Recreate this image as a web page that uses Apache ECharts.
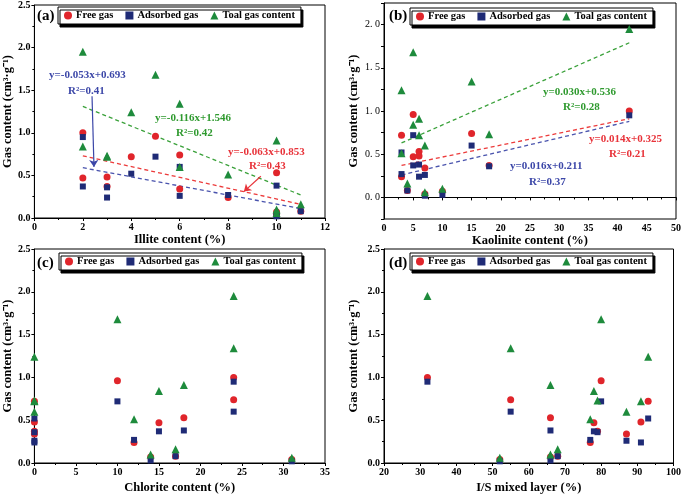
<!DOCTYPE html>
<html><head><meta charset="utf-8">
<script src="https://cdn.jsdelivr.net/npm/echarts@6/dist/echarts.min.js"></script>
<style>html,body{margin:0;padding:0;background:#fff}#c{width:684px;height:495px}</style>
</head><body><div id="c"></div>
<script>
// Samples (13): mineral content (%) and gas contents (cm3/g)
const illite     = [2, 10, 6, 10, 10, 11, 8, 2, 3, 5, 6, 3, 4];
const kaolinite  = [42, 7, 15, 6, 10, 4, 3, 5, 18, 5, 7, 6, 3];
const chlorite   = [24, 31, 24, 18, 14, 17, 12, 15, 0, 10, 0, 0, 0];
const isMixed    = [32, 52, 55, 66, 66, 68, 77, 78, 79, 80, 87, 91, 93];
const freeGas     = [1.00, 0.04, 0.74, 0.53, 0.07, 0.08, 0.24, 0.47, 0.37, 0.96, 0.34, 0.48, 0.72];
const adsorbedGas = [0.95, 0.02, 0.60, 0.38, 0.03, 0.08, 0.27, 0.37, 0.36, 0.72, 0.26, 0.24, 0.52];
const totalGas    = [1.95, 0.06, 1.34, 0.91, 0.10, 0.16, 0.51, 0.84, 0.73, 1.68, 0.60, 0.72, 1.24];

// Fitted trend line endpoints
const fitIlliteX     = [2, 11];
const fitIlliteTotal = [1.31, 0.27];
const fitIlliteFree  = [0.73, 0.16];
const fitIlliteAds   = [0.59, 0.11];
const fitKaolX       = [3, 42];
const fitKaolTotal   = [0.63, 1.79];
const fitKaolFree    = [0.37, 0.91];
const fitKaolAds     = [0.26, 0.88];

const seriesNames = ['Free gas', 'Adsorbed gas', 'Toal gas content'];
const xTitles = ['Illite content (%)', 'Kaolinite content (%)', 'Chlorite content (%)', 'I/S mixed layer (%)'];
const panelLabels = ['(a)', '(b)', '(c)', '(d)'];

const SERIF = '"Liberation Serif","Times New Roman",serif';
const RED = '#e0252b', NAVY = '#1f2b76', GREEN = '#1e8b3c';
const colors = [RED, NAVY, GREEN];
const symbols = ['circle', 'rect', 'triangle'];
const sizes = [7, 6, 8];

const grids = [
  {left: 32, top: 3, width: 293, height: 215},
  {left: 384, top: 3, width: 293, height: 216},
  {left: 32, top: 249, width: 293, height: 216},
  {left: 384, top: 249, width: 293, height: 216}
].map(g => Object.assign({show: true, borderColor: '#000', borderWidth: 1, backgroundColor: 'transparent'}, g));

const xRanges = [[0, 12, 2], [0, 50, 5], [0, 35, 5], [20, 100, 10]];
const xAxis = xRanges.map((r, i) => ({
  gridIndex: i, type: 'value', min: r[0], max: r[1], interval: r[2],
  name: xTitles[i], nameLocation: 'middle', nameGap: i < 2 ? 15 : 18,
  nameTextStyle: {fontFamily: SERIF, fontWeight: 'bold', fontSize: 12.5, color: '#000'},
  axisLine: {show: true, lineStyle: {color: '#000', width: 1}},
  axisTick: {show: true, length: 3, lineStyle: {color: '#000'}},
  minorTick: {show: true, splitNumber: 2, length: 2, lineStyle: {color: '#000'}},
  splitLine: {show: false},
  axisLabel: {fontFamily: SERIF, fontWeight: 'bold', fontSize: 10, color: '#000', margin: 4}
}));

const gasName = 'Gas content (cm³·g⁻¹)';
const yAxis = [0, 1, 2, 3].map(i => {
  const base = {
    gridIndex: i, type: 'value',
    name: gasName, nameLocation: 'middle', nameGap: i % 2 === 0 ? 20 : 24,
    nameTextStyle: {fontFamily: SERIF, fontWeight: 'bold', fontSize: 12.5, color: '#000'},
    axisLine: {show: true, lineStyle: {color: '#000', width: 1}},
    axisTick: {show: true, length: 3, lineStyle: {color: '#000'}},
    splitLine: {show: false},
    axisLabel: {fontFamily: SERIF, fontWeight: 'bold', fontSize: 10, color: '#000', margin: 4}
  };
  if (i === 1) {
    base.min = -0.25; base.max = 2.25; base.interval = 0.25;
    base.axisTick.length = 3;
    base.axisLabel = {fontFamily: SERIF, fontWeight: 'normal', fontSize: 10, color: '#000', margin: 4,
      formatter: v => {
        const d = v * 2;
        if (v < -1e-9 || Math.abs(d - Math.round(d)) > 1e-6) return '';
        return v.toFixed(1).replace('.', '. ');
      }};
  } else {
    base.min = 0; base.max = 2.5; base.interval = 0.5;
    base.minorTick = {show: true, splitNumber: 2, length: 2, lineStyle: {color: '#000'}};
    base.axisLabel.formatter = v => v.toFixed(1);
  }
  return base;
});

const xData = [illite, kaolinite, chlorite, isMixed];
const yData = [freeGas, adsorbedGas, totalGas];
const series = [];
for (let g = 0; g < 4; g++) {
  for (let s = 0; s < 3; s++) {
    series.push({
      name: seriesNames[s], type: 'scatter', xAxisIndex: g, yAxisIndex: g,
      symbol: symbols[s], symbolSize: sizes[s],
      itemStyle: {color: colors[s], opacity: 1},
      data: xData[g].map((x, k) => [x, yData[s][k]]),
      z: 3 + s
    });
  }
}
function fitLine(g, xs, ys, color) {
  return {type: 'line', xAxisIndex: g, yAxisIndex: g, symbol: 'none', silent: true,
    lineStyle: {color: color, width: 1.3, type: [4, 3]},
    data: xs.map((x, k) => [x, ys[k]]), z: 2};
}
series.push(fitLine(0, fitIlliteX, fitIlliteTotal, '#3aa13a'));
series.push(fitLine(0, fitIlliteX, fitIlliteFree, '#ec3b3b'));
series.push(fitLine(0, fitIlliteX, fitIlliteAds, '#4953ad'));
series.push(fitLine(1, fitKaolX, fitKaolTotal, '#3aa13a'));
series.push(fitLine(1, fitKaolX, fitKaolFree, '#ec3b3b'));
series.push(fitLine(1, fitKaolX, fitKaolAds, '#4953ad'));

// arrows in panel (a)
function arrow(from, to, color) {
  return {type: 'line', xAxisIndex: 0, yAxisIndex: 0, symbol: 'none', data: [], silent: true,
    markLine: {silent: true, symbol: ['none', 'arrow'], symbolSize: 7, label: {show: false},
      lineStyle: {color: color, width: 1.2, type: 'solid'},
      data: [[{coord: from}, {coord: to}]]}};
}
series.push(arrow([2.38, 1.43], [2.46, 0.60], '#3c47a8'));
series.push(arrow([9.35, 0.49], [8.65, 0.31], '#e8333a'));

const legends = [
  {left: 58, top: 7}, {left: 410, top: 8}, {left: 59, top: 253}, {left: 410, top: 253}
].map(p => Object.assign({
  data: seriesNames.map((n, s) => ({name: n, icon: symbols[s] === 'rect' ? 'rect' : symbols[s]})),
  orient: 'horizontal', itemWidth: 8, itemHeight: 8, itemGap: 12,
  padding: [3, 6, 3, 6],
  backgroundColor: '#fff', borderColor: '#000', borderWidth: 1,
  shadowColor: '#000', shadowBlur: 0, shadowOffsetX: 2, shadowOffsetY: 3,
  textStyle: {fontFamily: SERIF, fontWeight: 'bold', fontSize: 10.5, color: '#000', padding: [0, 0, 0, -1]},
  selectedMode: false
}, p));

function txt(x, y, text, color, size) {
  return {type: 'text', left: x, top: y, z: 50,
    style: {text: text, fill: color, font: 'bold ' + (size || 11) + 'px ' + SERIF}};
}
const graphic = [
  txt(37, 9, panelLabels[0], '#000', 15),
  txt(389, 9, panelLabels[1], '#000', 15),
  txt(37, 256, panelLabels[2], '#000', 15),
  txt(389, 256, panelLabels[3], '#000', 15),
  txt(49, 70, 'y=-0.053x+0.693', '#3c47a8'),
  txt(68, 86, 'R²=0.41', '#3c47a8'),
  txt(155, 113, 'y=-0.116x+1.546', '#2f9a2f'),
  txt(176, 128, 'R²=0.42', '#2f9a2f'),
  txt(228, 147, 'y=-0.063x+0.853', '#e8333a'),
  txt(249, 161, 'R²=0.43', '#e8333a'),
  txt(543, 87, 'y=0.030x+0.536', '#2f9a2f'),
  txt(563, 102, 'R²=0.28', '#2f9a2f'),
  txt(589, 134, 'y=0.014x+0.325', '#e8333a'),
  txt(609, 149, 'R²=0.21', '#e8333a'),
  txt(510, 161, 'y=0.016x+0.211', '#3c47a8'),
  txt(529, 177, 'R²=0.37', '#3c47a8')
];

const chart = echarts.init(document.getElementById('c'), null, {renderer: 'canvas'});
chart.setOption({
  animation: false,
  backgroundColor: '#fff',
  grid: grids, xAxis: xAxis, yAxis: yAxis, legend: legends, series: series, graphic: graphic
});
</script></body></html>
